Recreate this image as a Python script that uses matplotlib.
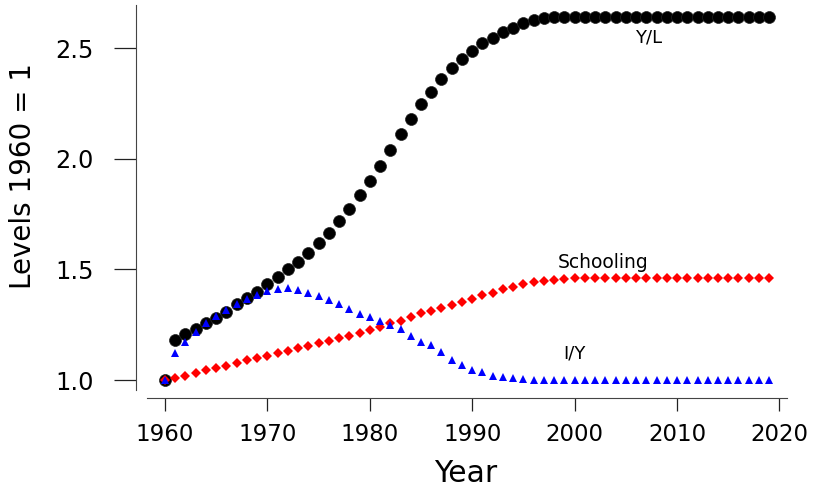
import numpy as np
import matplotlib.pyplot as plt

plt.rcParams['font.family'] = ['DejaVu Sans']

years = np.arange(1960, 2020)

yl = [1.000, 1.181, 1.206, 1.229, 1.256, 1.282, 1.309, 1.342, 1.369, 1.398,
      1.432, 1.464, 1.500, 1.535, 1.575, 1.618, 1.666, 1.718, 1.774, 1.836,
      1.899, 1.968, 2.039, 2.110, 2.179, 2.247, 2.303, 2.360, 2.408, 2.453,
      2.488, 2.521, 2.548, 2.574, 2.593, 2.614, 2.629, 2.638, 2.641] + [2.642] * 21

schooling = [1.000, 1.008, 1.018, 1.033, 1.045, 1.056, 1.065, 1.077, 1.089, 1.098,
             1.108, 1.121, 1.131, 1.143, 1.154, 1.166, 1.175, 1.190, 1.200, 1.214,
             1.226, 1.241, 1.259, 1.268, 1.286, 1.301, 1.313, 1.324, 1.341, 1.353,
             1.367, 1.383, 1.395, 1.410, 1.422, 1.434, 1.441, 1.449, 1.452, 1.456,
             1.459] + [1.460] * 19

iy = [1.000, 1.123, 1.173, 1.218, 1.256, 1.289, 1.316, 1.342, 1.365, 1.383,
      1.402, 1.410, 1.414, 1.407, 1.395, 1.381, 1.361, 1.342, 1.321, 1.298,
      1.283, 1.267, 1.249, 1.229, 1.200, 1.170, 1.158, 1.126, 1.090, 1.066,
      1.045, 1.035, 1.019, 1.012, 1.007, 1.004, 1.002, 1.001, 1.000, 1.000] + [1.000] * 20

xticks = [1960, 1970, 1980, 1990, 2000, 2010, 2020]
yticks = [1.0, 1.5, 2.0, 2.5]

W, H = 813, 492
fig = plt.figure(figsize=(W / 100, H / 100), dpi=100)
ax = fig.add_axes([135.7 / W, 1 - 397.7 / H, (794.8 - 135.7) / W, (397.7 - 5) / H])

ax.plot(years, yl, 'o', color='black', ms=8.6, mec='#222222', mew=0.5)
ax.plot(years, schooling, 'D', color='red', ms=5.2, mew=0)
ax.plot(years, iy, '^', color='blue', ms=6.0, mew=0)

ax.set_xlim(1957.14, 2021.5)
ax.set_ylim(0.92, 2.695)

for s in ['top', 'right']:
    ax.spines[s].set_visible(False)
ax.spines['left'].set_bounds(0.955, 2.695)
ax.spines['bottom'].set_bounds(1958.2, 2020.7)
ax.spines['left'].set_color('#444444')
ax.spines['bottom'].set_color('#444444')

ax.set_xticks(xticks)
ax.set_xticklabels([str(t) for t in xticks])
ax.set_yticks(yticks)
ax.set_yticklabels(['%.1f' % t for t in yticks])
ax.tick_params(axis='x', length=9.4, width=0.9, pad=9, labelsize=16.5, color='#222222')
ax.tick_params(axis='y', length=16.0, width=0.9, pad=14, labelsize=17.3, color='#222222')

fig.text(466 / W, 1 - 473 / H, 'Year', fontsize=21.4, ha='center', va='center')
fig.text(23 / W, 1 - 176 / H, 'Levels 1960 = 1', fontsize=20, ha='center', va='center',
         rotation=90)

ax.text(2007.2, 2.55, 'Y/L', fontsize=13, ha='center', va='center')
ax.text(2002.8, 1.532, 'Schooling', fontsize=13.5, ha='center', va='center')
ax.text(2000.0, 1.121, 'I/Y', fontsize=13, ha='center', va='center')

fig.savefig('out.png', dpi=100)
